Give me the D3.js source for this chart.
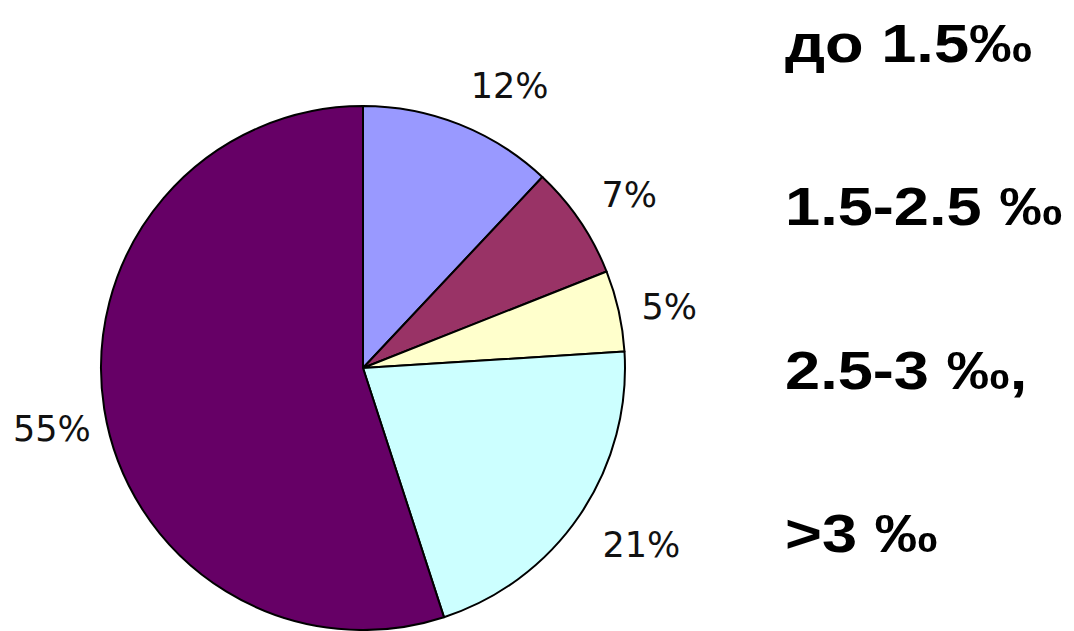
<!DOCTYPE html>
<html>
<head>
<meta charset="utf-8">
<script src="https://cdn.jsdelivr.net/npm/d3@7"></script>
<style>
  body { margin: 0; background: #fff; }
</style>
</head>
<body>
<div id="chart"></div>
<script>
// Daten
const categories = ["до 1.5‰", "1.5-2.5 ‰", "2.5-3 ‰,", ">3 ‰", "rest"]
const values = [12, 7, 5, 21, 55]
const colors = ["#9999ff", "#993366", "#ffffcc", "#ccffff", "#660066"]
const legendLabels = ["до 1.5‰", "1.5-2.5 ‰", "2.5-3 ‰,", ">3 ‰"]

const width = 1074
const height = 631
const cx = 363, cy = 368, radius = 262

const svg = d3.select("#chart")
    .append("svg")
    .attr("width", width)
    .attr("height", height)

const pie = d3.pie().sort(null).value(function (d) { return d; })
const arcs = pie(values)

const arc = d3.arc().innerRadius(0).outerRadius(radius)

const g = svg.append("g")
    .attr("transform", "translate(" + cx + "," + cy + ")")

g.selectAll(".slice")
    .data(arcs)
    .enter().append("path")
    .attr("class", "slice")
    .attr("d", arc)
    .attr("fill", function (d, i) { return colors[i]; })
    .attr("stroke", "#000")
    .attr("stroke-width", 2)
    .attr("stroke-linejoin", "round")

// Prozent-Beschriftungen ausserhalb des Kreises
const labelArc = d3.arc().innerRadius(radius + 60).outerRadius(radius + 60)
const labelOffsets = [[28, 17], [0, 8], [-8, 9], [12, -4], [7, 11]]

g.selectAll(".pct")
    .data(arcs)
    .enter().append("text")
    .attr("class", "pct")
    .attr("x", function (d, i) { return labelArc.centroid(d)[0] + labelOffsets[i][0]; })
    .attr("y", function (d, i) { return labelArc.centroid(d)[1] + labelOffsets[i][1]; })
    .attr("text-anchor", "middle")
    .attr("dominant-baseline", "central")
    .style("font-family", "'DejaVu Sans', sans-serif")
    .style("font-size", "35px")
    .attr("fill", "#111")
    .text(function (d) { return d.value + "%"; })

// Legende rechts (nur Text)
const legendY = d3.scalePoint()
    .domain(legendLabels)
    .range([62, 552])

svg.selectAll(".leg")
    .data(legendLabels)
    .enter().append("text")
    .attr("class", "leg")
    .attr("transform", function (d) { return "translate(785," + legendY(d) + ") scale(1.17,1)"; })
    .style("font-family", "'Liberation Sans', Arial, sans-serif")
    .style("font-weight", "bold")
    .style("font-size", "54px")
    .attr("fill", "#000")
    .text(function (d) { return d; })
</script>
</body>
</html>
